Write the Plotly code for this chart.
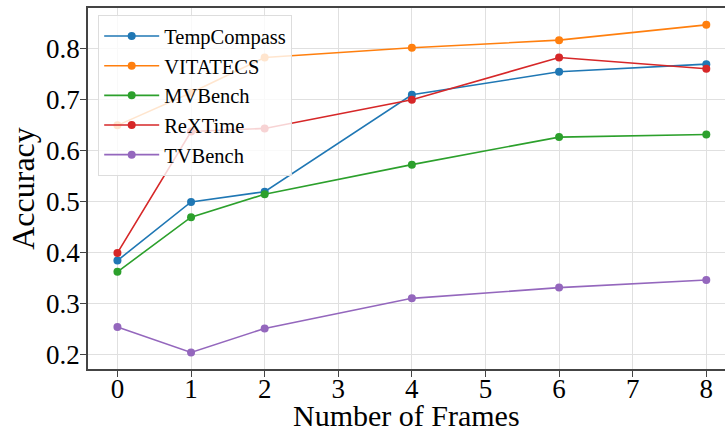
import plotly.graph_objects as go

frames = [0, 1, 2, 4, 6, 8]
series_names = ["TempCompass", "VITATECS", "MVBench", "ReXTime", "TVBench"]
temp_compass = [0.385, 0.500, 0.520, 0.710, 0.755, 0.770]
vitatecs = [0.650, 0.714, 0.783, 0.802, 0.817, 0.847]
mvbench = [0.363, 0.470, 0.515, 0.573, 0.627, 0.632]
rextime = [0.400, 0.638, 0.644, 0.700, 0.783, 0.761]
tvbench = [0.255, 0.205, 0.252, 0.311, 0.332, 0.347]
colors = ["#1f77b4", "#ff7f0e", "#2ca02c", "#d62728", "#9467bd"]
x_ticks = [0, 1, 2, 3, 4, 5, 6, 7, 8]
y_ticks = [0.2, 0.3, 0.4, 0.5, 0.6, 0.7, 0.8]
x_title = "Number of Frames"
y_title = "Accuracy"

FONT = "Liberation Serif"
fig = go.Figure()
for name, vals, c in zip(series_names, [temp_compass, vitatecs, mvbench, rextime, tvbench], colors):
    fig.add_trace(go.Scatter(x=frames, y=vals, name=name, mode="lines+markers",
                             line=dict(color=c, width=1.6),
                             marker=dict(color=c, size=8)))

axis_common = dict(showgrid=True, gridcolor="#e0e0e0", gridwidth=1,
                   showline=True, linecolor="#444444", linewidth=1.5,
                   ticks="outside", ticklen=6, tickcolor="#444444", tickwidth=1.2,
                   zeroline=False, automargin=False,
                   tickfont=dict(family=FONT, size=27, color="black"))
fig.update_xaxes(range=[-0.4, 8.254], tickvals=x_ticks, mirror=True,
                 ticklabelstandoff=-11, **axis_common)
fig.update_yaxes(range=[0.1725, 0.880], tickvals=y_ticks, tickformat=".1f",
                 ticklabelstandoff=-5,
                 title=dict(text=y_title, font=dict(family=FONT, size=32, color="black"), standoff=2),
                 **axis_common)
fig.add_annotation(text=x_title, xref="paper", yref="paper", x=0.5, y=-0.128,
                   xanchor="center", yanchor="middle", showarrow=False,
                   font=dict(family=FONT, size=30, color="black"))
fig.update_layout(
    width=725, height=434,
    margin=dict(l=88, r=0, t=8, b=65),
    plot_bgcolor="white", paper_bgcolor="white",
    font=dict(family=FONT, color="black"),
    legend=dict(x=0.016, y=0.98, xanchor="left", yanchor="top",
                bgcolor="rgba(255,255,255,0.8)", bordercolor="#dddddd", borderwidth=1,
                font=dict(family=FONT, size=20.5, color="black"), itemwidth=55,
                tracegroupgap=0),
    showlegend=True,
)
fig.write_html("out.html")
